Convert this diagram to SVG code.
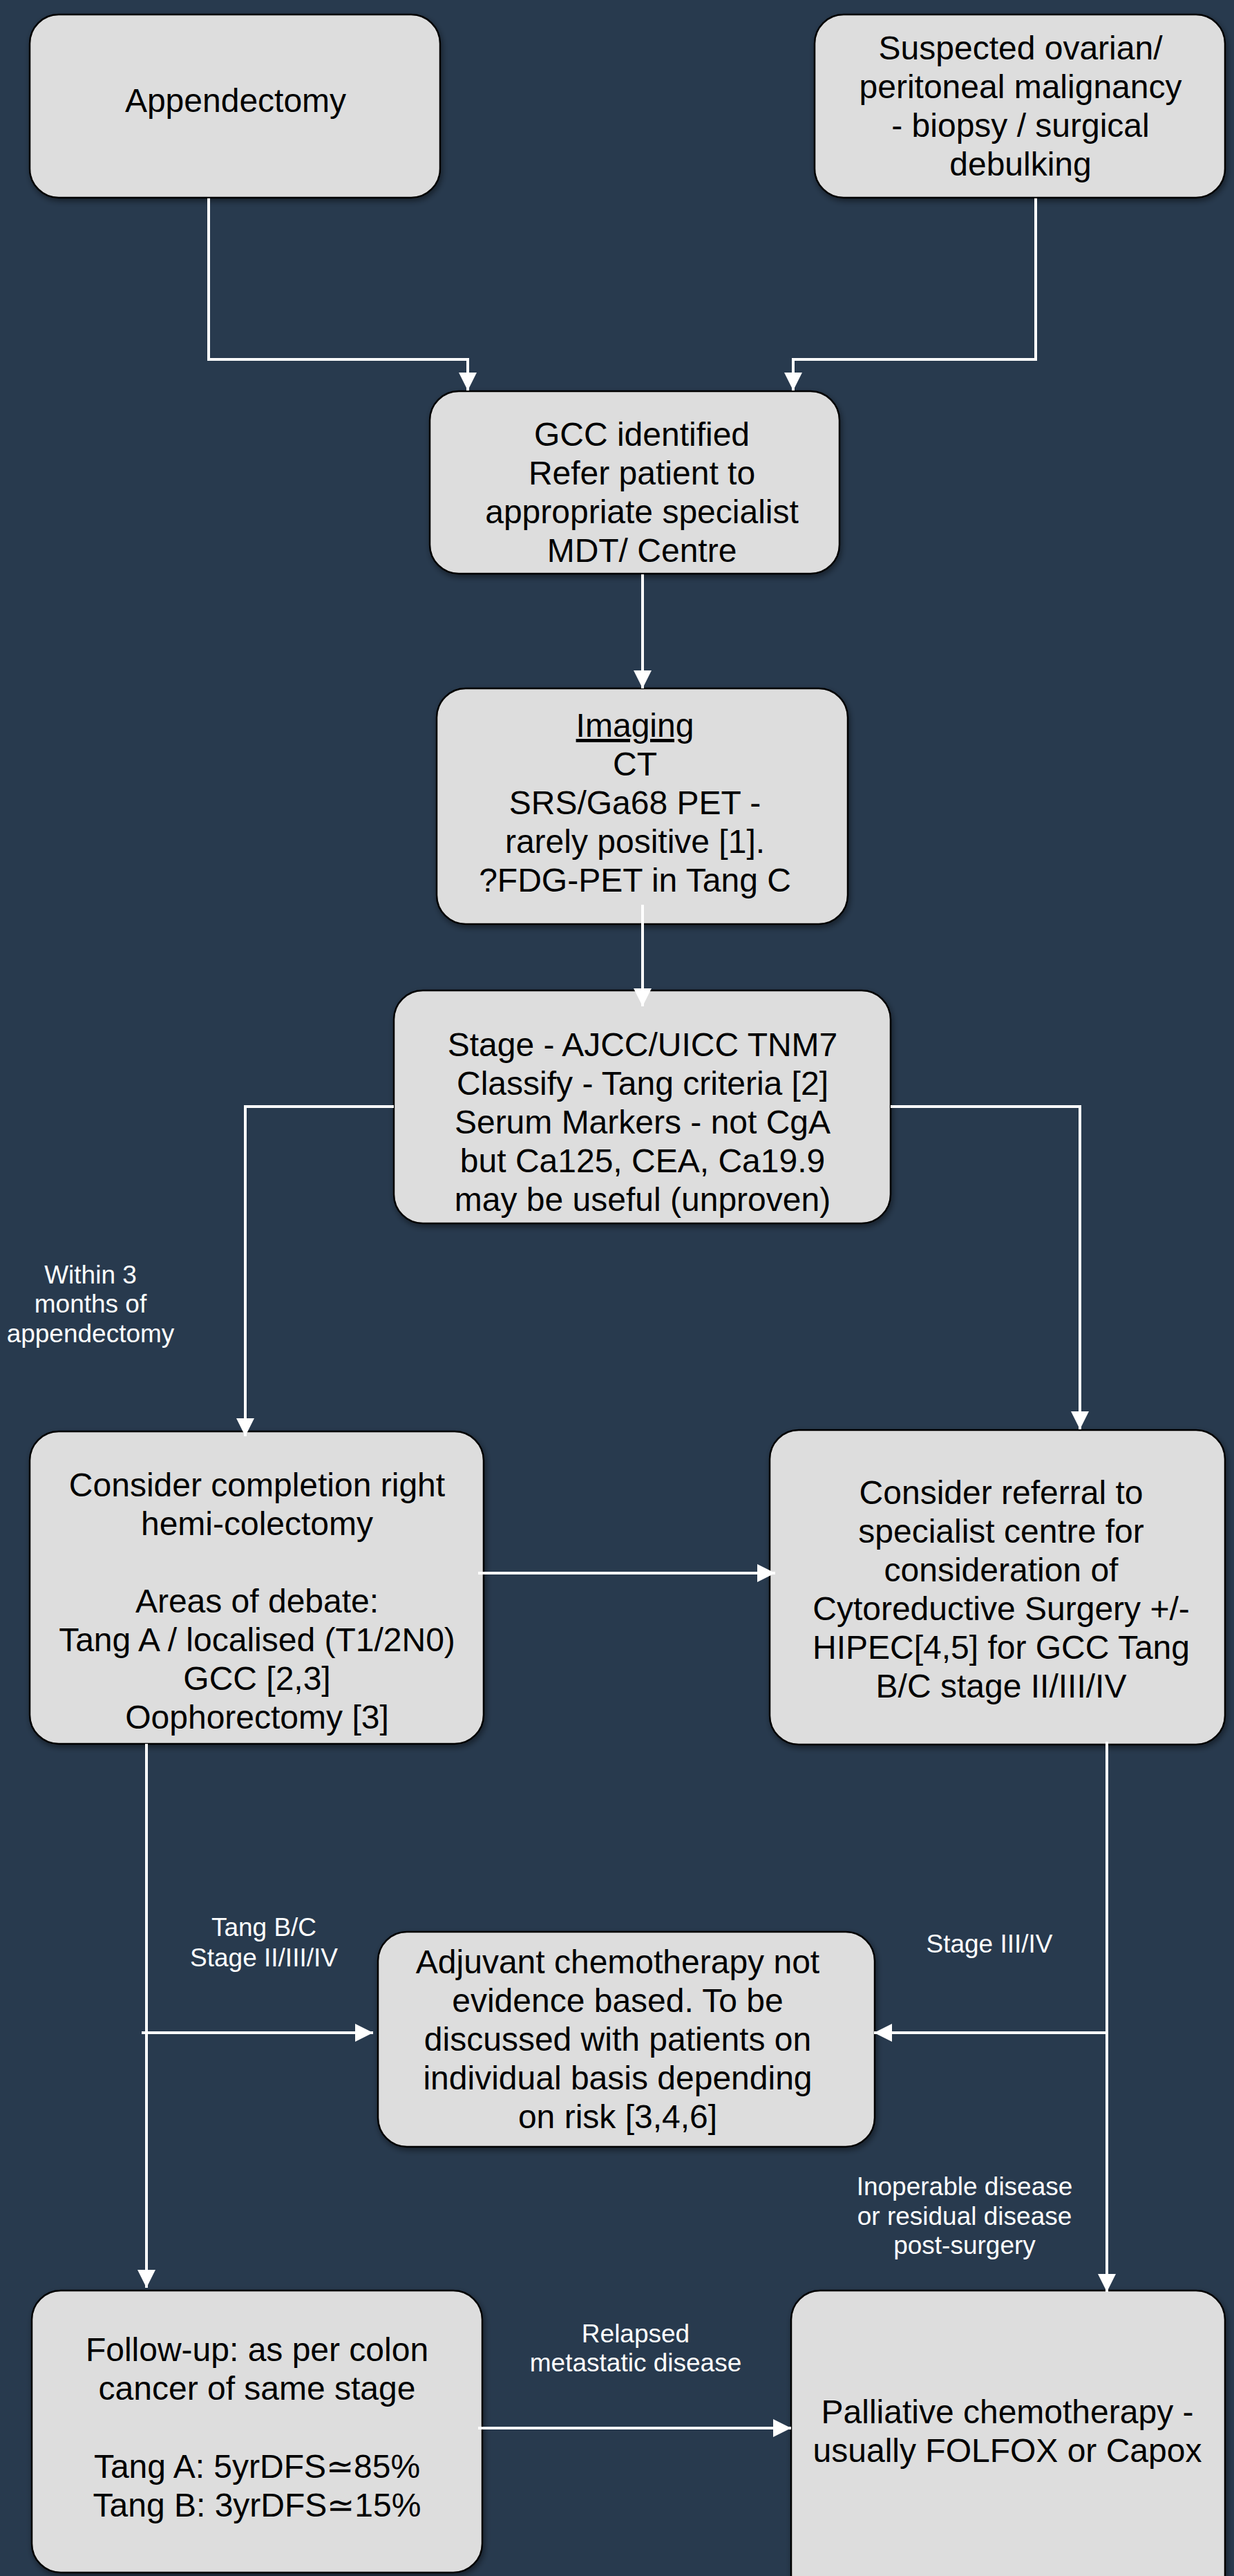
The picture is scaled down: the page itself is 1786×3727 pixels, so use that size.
<svg xmlns="http://www.w3.org/2000/svg" width="1786" height="3727" viewBox="0 0 1786 3727">
<style>
.bg{fill:#283a4e}
.box{fill:#dddddd;stroke:#000000;stroke-width:2.5;filter:url(#sh)}
.t{font-family:"Liberation Sans",Arial,Helvetica,sans-serif;font-size:48px;fill:#000000;text-anchor:middle}
.l{font-family:"Liberation Sans",Arial,Helvetica,sans-serif;font-size:37px;fill:#ffffff;text-anchor:middle}
.c{fill:none;stroke:#ffffff;stroke-width:4;marker-end:url(#ah)}
.cn{fill:none;stroke:#ffffff;stroke-width:4}
</style>
<defs>
<filter id="sh" x="-10%" y="-10%" width="120%" height="120%">
<feDropShadow dx="2" dy="4" stdDeviation="4" flood-color="#000000" flood-opacity="0.45"/>
</filter>
<marker id="ah" markerUnits="userSpaceOnUse" markerWidth="26" markerHeight="26" refX="24" refY="12" orient="auto" viewBox="0 0 24 24">
<path d="M0,0 L24,12 L0,24 z" fill="#ffffff"/>
</marker>
</defs>
<rect class="bg" x="0" y="0" width="1786" height="3727"/>

<g id="n-appendectomy">
<rect class="box" x="43" y="21" width="594" height="265" rx="42" ry="42"/>
<text class="t" x="341" y="162">Appendectomy</text>
</g>

<g id="n-suspected">
<rect class="box" x="1179" y="21" width="594" height="265" rx="42" ry="42"/>
<text class="t" x="1477" y="86">Suspected ovarian/</text>
<text class="t" x="1477" y="142">peritoneal malignancy</text>
<text class="t" x="1477" y="198">- biopsy / surgical</text>
<text class="t" x="1477" y="254">debulking</text>
</g>

<g id="n-gcc">
<rect class="box" x="622" y="566" width="593" height="264" rx="42" ry="42"/>
<text class="t" x="929" y="645">GCC identified</text>
<text class="t" x="929" y="701">Refer patient to</text>
<text class="t" x="929" y="757">appropriate specialist</text>
<text class="t" x="929" y="813">MDT/ Centre</text>
</g>

<g id="n-imaging">
<rect class="box" x="632" y="996" width="595" height="341" rx="42" ry="42"/>
<text class="t" x="919" y="1066" text-decoration="underline">Imaging</text>
<text class="t" x="919" y="1122">CT</text>
<text class="t" x="919" y="1178">SRS/Ga68 PET -</text>
<text class="t" x="919" y="1234">rarely positive [1].</text>
<text class="t" x="919" y="1290">?FDG-PET in Tang C</text>
</g>

<g id="n-stage">
<rect class="box" x="570" y="1433" width="719" height="337" rx="42" ry="42"/>
<text class="t" x="930" y="1528">Stage - AJCC/UICC TNM7</text>
<text class="t" x="930" y="1584">Classify - Tang criteria [2]</text>
<text class="t" x="930" y="1640">Serum Markers - not CgA</text>
<text class="t" x="930" y="1696">but Ca125, CEA, Ca19.9</text>
<text class="t" x="930" y="1752">may be useful (unproven)</text>
</g>

<g id="n-completion">
<rect class="box" x="43" y="2071" width="657" height="452" rx="42" ry="42"/>
<text class="t" x="372" y="2165">Consider completion right</text>
<text class="t" x="372" y="2221">hemi-colectomy</text>
<text class="t" x="372" y="2333">Areas of debate:</text>
<text class="t" x="372" y="2389">Tang A / localised (T1/2N0)</text>
<text class="t" x="372" y="2445">GCC [2,3]</text>
<text class="t" x="372" y="2501">Oophorectomy [3]</text>
</g>

<g id="n-referral">
<rect class="box" x="1114" y="2069" width="659" height="455" rx="42" ry="42"/>
<text class="t" x="1449" y="2176">Consider referral to</text>
<text class="t" x="1449" y="2232">specialist centre for</text>
<text class="t" x="1449" y="2288">consideration of</text>
<text class="t" x="1449" y="2344">Cytoreductive Surgery +/-</text>
<text class="t" x="1449" y="2400">HIPEC[4,5] for GCC Tang</text>
<text class="t" x="1449" y="2456">B/C stage II/III/IV</text>
</g>

<g id="n-adjuvant">
<rect class="box" x="547" y="2795" width="719" height="311" rx="42" ry="42"/>
<text class="t" x="894" y="2855">Adjuvant chemotherapy not</text>
<text class="t" x="894" y="2911">evidence based. To be</text>
<text class="t" x="894" y="2967">discussed with patients on</text>
<text class="t" x="894" y="3023">individual basis depending</text>
<text class="t" x="894" y="3079">on risk [3,4,6]</text>
</g>

<g id="n-followup">
<rect class="box" x="46" y="3314" width="652" height="408" rx="42" ry="42"/>
<text class="t" x="372" y="3416">Follow-up: as per colon</text>
<text class="t" x="372" y="3472">cancer of same stage</text>
<text class="t" x="372" y="3585">Tang A: 5yrDFS≃85%</text>
<text class="t" x="372" y="3641">Tang B: 3yrDFS≃15%</text>
</g>

<g id="n-palliative">
<rect class="box" x="1145" y="3314" width="628" height="500" rx="42" ry="42"/>
<text class="t" x="1458" y="3506">Palliative chemotherapy -</text>
<text class="t" x="1458" y="3562">usually FOLFOX or Capox</text>
</g>

<g id="connectors">
<path class="c" d="M302 287 V520 H677 V565"/>
<path class="c" d="M1499 287 V520 H1148 V565"/>
<path class="c" d="M930 831 V996"/>
<path class="c" d="M930 1309 V1456"/>
<path class="c" d="M570 1601 H355 V2078"/>
<path class="c" d="M1289 1601 H1563 V2068"/>
<path class="c" d="M692 2276 H1122"/>
<path class="c" d="M212 2523 V3310"/>
<path class="c" d="M205 2941 H540"/>
<path class="c" d="M1602 2520 V3316"/>
<path class="c" d="M1602 2941 H1265"/>
<path class="c" d="M692 3513 H1145"/>
</g>

<g id="labels">
<text class="l" x="131" y="1857">Within 3</text>
<text class="l" x="131" y="1899">months of</text>
<text class="l" x="131" y="1942">appendectomy</text>
<text class="l" x="382" y="2801">Tang B/C</text>
<text class="l" x="382" y="2845">Stage II/III/IV</text>
<text class="l" x="1432" y="2825">Stage III/IV</text>
<text class="l" x="1396" y="3176">Inoperable disease</text>
<text class="l" x="1396" y="3219">or residual disease</text>
<text class="l" x="1396" y="3261">post-surgery</text>
<text class="l" x="920" y="3389">Relapsed</text>
<text class="l" x="920" y="3431">metastatic disease</text>
</g>
</svg>
